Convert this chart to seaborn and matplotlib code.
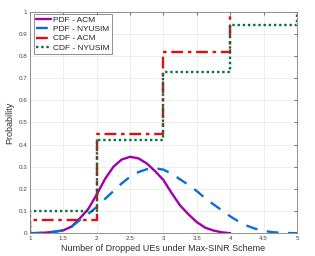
import matplotlib
matplotlib.use("Agg")
import matplotlib.pyplot as plt
import numpy as np
import pandas as pd
import seaborn as sns

# PDF curves (step 0.125)
x_acm = [1.0, 1.125, 1.25, 1.375, 1.5, 1.625, 1.75, 1.875, 2.0, 2.125, 2.25, 2.375, 2.5,
         2.625, 2.75, 2.875, 3.0, 3.125, 3.25, 3.375, 3.5, 3.625, 3.75, 3.875, 4.0]
pdf_acm = [0.0, 0.001, 0.003, 0.007, 0.013, 0.03, 0.068, 0.11, 0.175, 0.245, 0.30, 0.333, 0.345,
           0.338, 0.315, 0.28, 0.24, 0.18, 0.125, 0.085, 0.05, 0.025, 0.012, 0.004, 0.0]

x_nyu = [1.0, 1.125, 1.25, 1.375, 1.5, 1.625, 1.75, 1.875, 2.0, 2.125, 2.25, 2.375, 2.5,
         2.625, 2.75, 2.875, 3.0, 3.125, 3.25, 3.375, 3.5, 3.625, 3.75, 3.875, 4.0,
         4.125, 4.25, 4.375, 4.5, 4.625, 4.75, 4.875, 5.0]
pdf_nyu = [0.0, 0.001, 0.003, 0.007, 0.013, 0.03, 0.06, 0.088, 0.118, 0.155, 0.19, 0.225, 0.255,
           0.276, 0.289, 0.293, 0.287, 0.268, 0.243, 0.218, 0.19, 0.158, 0.13, 0.103, 0.076,
           0.053, 0.034, 0.02, 0.011, 0.005, 0.002, 0.001, 0.0]

# CDF steps (value before x=1 is 0)
x_cdf_acm = [1, 1, 2, 3, 4]
cdf_acm = [0.0, 0.06, 0.45, 0.82, 1.0]
x_cdf_nyu = [1, 1, 2, 3, 4, 5]
cdf_nyu = [0.0, 0.10, 0.42, 0.73, 0.94, 1.0]

sns.set_style("whitegrid", {"grid.color": "#e8e8e8", "axes.edgecolor": "#808080"})
plt.rcParams['font.family'] = ['Liberation Sans', 'DejaVu Sans']

fig = plt.figure(figsize=(3.15, 2.56), dpi=100)
ax = fig.add_axes([0.095, 0.089, 0.848, 0.865])

c_purple = '#a000a8'
c_blue = '#0a6fd4'
c_red = '#e01010'
c_green = '#007040'

df_acm = pd.DataFrame({'x': x_acm, 'y': pdf_acm})
df_nyu = pd.DataFrame({'x': x_nyu, 'y': pdf_nyu})
df_cacm = pd.DataFrame({'x': x_cdf_acm, 'y': cdf_acm})
df_cnyu = pd.DataFrame({'x': x_cdf_nyu, 'y': cdf_nyu})

sns.lineplot(data=df_acm, x='x', y='y', ax=ax, color=c_purple, lw=1.7,
             label='PDF - ACM', estimator=None, sort=False)
sns.lineplot(data=df_nyu, x='x', y='y', ax=ax, color=c_blue, lw=1.7,
             label='PDF - NYUSIM', estimator=None, sort=False, dashes=False)
ax.lines[-1].set_dashes([5, 4])
sns.lineplot(data=df_cacm, x='x', y='y', ax=ax, color=c_red, lw=1.7,
             label='CDF - ACM', estimator=None, sort=False, drawstyle='steps-post')
ax.lines[-1].set_dashes([5, 2, 1.5, 2])
sns.lineplot(data=df_cnyu, x='x', y='y', ax=ax, color=c_green, lw=1.7,
             label='CDF - NYUSIM', estimator=None, sort=False, drawstyle='steps-post')
ax.lines[-1].set_dashes([1, 1.2])

ax.set_xlim(1, 5)
ax.set_ylim(0, 1)
ax.set_xticks(np.arange(1, 5.01, 0.5))
ax.set_xticklabels(['1', '1.5', '2', '2.5', '3', '3.5', '4', '4.5', '5'])
ax.set_yticks(np.arange(0, 1.01, 0.1))
ax.set_yticklabels(['0', '0.1', '0.2', '0.3', '0.4', '0.5', '0.6', '0.7', '0.8', '0.9', '1'])
ax.tick_params(direction='in', length=2, width=0.5, labelsize=4.5, colors='#404040',
               top=True, right=True, pad=2)
for s in ax.spines.values():
    s.set_linewidth(0.6)
ax.grid(True, lw=0.5)

ax.set_xlabel('Number of Dropped UEs under Max-SINR Scheme', fontsize=6.5, color='#303030', labelpad=2)
ax.set_ylabel('Probability', fontsize=6.5, color='#303030', labelpad=3)

leg = ax.legend(loc='upper left', bbox_to_anchor=(0.015, 0.99), borderaxespad=0,
                fontsize=6, frameon=True, fancybox=False, edgecolor='#404040',
                handlelength=1.7, handletextpad=0.3, labelspacing=0.15, borderpad=0.3)
leg.get_frame().set_linewidth(0.5)

fig.savefig('out.png', dpi=100)
